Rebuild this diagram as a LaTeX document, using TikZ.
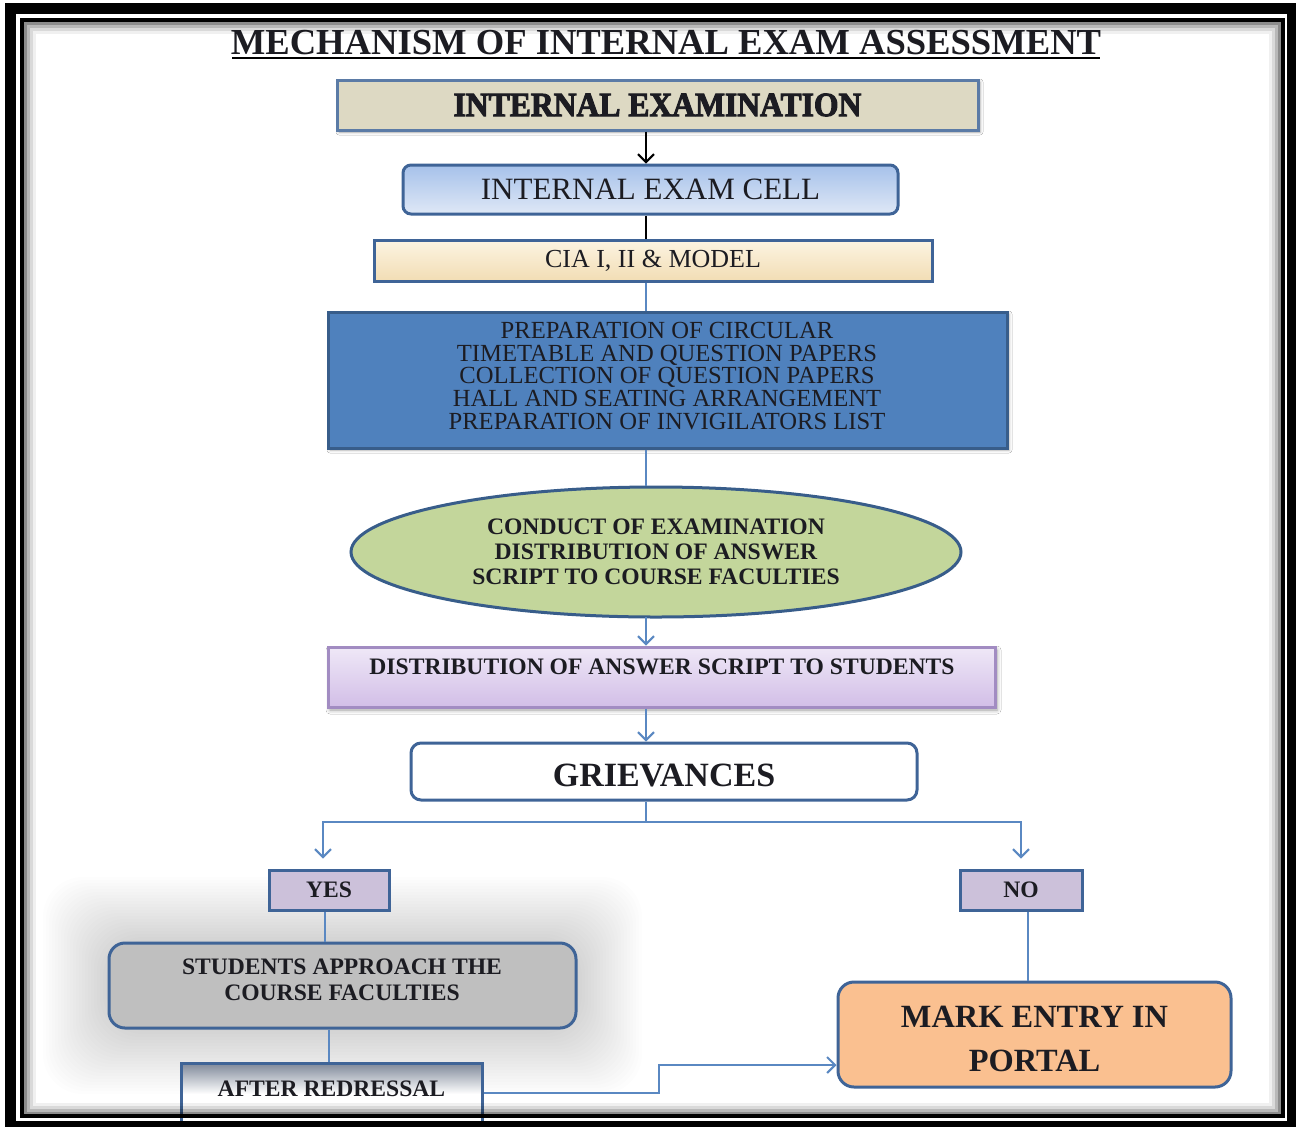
\documentclass[tikz,border=0pt]{standalone}
\usepackage{fontspec}
\usepackage{graphicx}
\setmainfont{Liberation Serif}
\newfontfamily\heavyfont[FakeBold=3]{Liberation Serif Bold}
\usetikzlibrary{arrows.meta,shapes.geometric,shadows.blur,calc}
\definecolor{ink}{HTML}{1C1C22}
\definecolor{bordblue}{HTML}{3F6497}
\definecolor{lineblue}{HTML}{5A88C2}
\definecolor{ieFill}{HTML}{DDD9C3}
\definecolor{ieBord}{HTML}{5B7BA6}
\definecolor{cellTop}{HTML}{A6C1EA}
\definecolor{cellBot}{HTML}{DFE8F6}
\definecolor{ciaTop}{HTML}{FCF4E2}
\definecolor{ciaBot}{HTML}{F2DDB4}
\definecolor{prepFill}{HTML}{4F81BD}
\definecolor{prepBord}{HTML}{385D8A}
\definecolor{condFill}{HTML}{C3D69B}
\definecolor{distTop}{HTML}{EFE8F7}
\definecolor{distBot}{HTML}{D2BEE7}
\definecolor{distBord}{HTML}{A28CC2}
\definecolor{ynFill}{HTML}{CCC1DA}
\definecolor{studFill}{HTML}{BFBFBF}
\definecolor{afterTop}{HTML}{7E8899}
\definecolor{markFill}{HTML}{FAC090}
\begin{document}
\begin{tikzpicture}[x=0.5pt,y=-0.5pt,
  every node/.style={text=ink, inner sep=0pt},
  box/.style={draw=bordblue, line width=1.5pt},
  conn/.style={draw=lineblue, line width=1pt},
  arr/.style={conn, -{Straight Barb[length=4pt,width=8pt,line width=1pt]}},
  body/.style={font=\bfseries\fontsize{11.8}{13}\selectfont, align=center}]
\useasboundingbox (0,0) rectangle (1296,1126);
\fill[white] (0,0) rectangle (1296,1126);

% soft glow behind the "students approach" box
\foreach \i in {1,...,22}
  \fill[black, opacity=0.0065, rounded corners=20pt] (109-3*\i,943-3*\i) rectangle (576+3*\i,1028+3*\i);

% title
\node[font=\bfseries\fontsize{18.3}{20}\selectfont] (title) at (666,43) {MECHANISM OF INTERNAL EXAM ASSESSMENT};
\draw[line width=1.2pt] (232,58) -- (1100,58);

% nodes
\node[box, draw=ieBord, fill=ieFill, minimum width=320.5pt, minimum height=25pt,
  blur shadow={shadow xshift=1pt,shadow yshift=-1pt,shadow blur radius=1.5pt,shadow opacity=35}]
  (ie) at (657.5,105) {\fontsize{17}{18}\heavyfont\scalebox{0.93}[1]{INTERNAL EXAMINATION}};

\node[box, rounded corners=4pt, top color=cellTop, bottom color=cellBot,
  minimum width=247.5pt, minimum height=24.5pt, font=\fontsize{15.5}{17}\selectfont]
  (cell) at (650.5,189.5) {INTERNAL EXAM CELL};

\node[box, top color=ciaTop, bottom color=ciaBot, minimum width=279pt, minimum height=20.5pt,
  font=\fontsize{13}{14}\selectfont] (cia) at (653,260.5) {CIA I, II \& MODEL};

\node[box, draw=prepBord, fill=prepFill, minimum width=339.5pt, minimum height=68pt,
  blur shadow={shadow xshift=1pt,shadow yshift=-1pt,shadow blur radius=1.5pt,shadow opacity=30}]
  (prep) at (667.5,380) {};
\node[align=center, font=\fontsize{12.3}{11.3}\selectfont] (prepT) at (667,376)
  {PREPARATION OF CIRCULAR\\TIMETABLE AND QUESTION PAPERS\\COLLECTION OF QUESTION PAPERS\\HALL AND SEATING ARRANGEMENT\\PREPARATION OF INVIGILATORS LIST};

\node[box, draw=prepBord, ellipse, fill=condFill, minimum width=305pt, minimum height=65pt,
  font=\bfseries\fontsize{11.8}{12.5}\selectfont, align=center]
  (cond) at (656,552) {CONDUCT OF EXAMINATION\\DISTRIBUTION OF ANSWER\\SCRIPT TO COURSE FACULTIES};

\node[box, draw=distBord, top color=distTop, bottom color=distBot, minimum width=333.5pt, minimum height=30pt,
  blur shadow={shadow xshift=1pt,shadow yshift=-1.5pt,shadow blur radius=2pt,shadow opacity=40}]
  (dist) at (661.5,677) {};
\node[body] (distT) at (662,667) {DISTRIBUTION OF ANSWER SCRIPT TO STUDENTS};

\node[box, rounded corners=5pt, fill=white, minimum width=253pt, minimum height=28.5pt] (griev) at (664,771.5) {};
\node[font=\bfseries\fontsize{17}{18}\selectfont] (grievT) at (664,775) {GRIEVANCES};

\node[box, fill=ynFill, minimum width=60pt, minimum height=20pt, body] (yes) at (329,890) {YES};
\node[box, fill=ynFill, minimum width=61pt, minimum height=20pt, body] (no) at (1021,890) {NO};

\node[box, rounded corners=8pt, fill=studFill, minimum width=233.5pt, minimum height=42.5pt]
  (stud) at (342.5,985.5) {};
\node[body] (studT) at (342,980) {STUDENTS APPROACH THE\\COURSE FACULTIES};

\node[box, top color=afterTop, bottom color=white, middle color=white, minimum width=150.5pt, minimum height=31pt]
  (after) at (331.5,1094) {};
\node[body] (afterT) at (331.5,1089) {AFTER REDRESSAL};

\node[box, rounded corners=8pt, fill=markFill, minimum width=196.5pt, minimum height=52.5pt]
  (mark) at (1034.5,1034.5) {};
\node[font=\bfseries\fontsize{16.2}{22}\selectfont, align=center] (markT) at (1034.5,1039) {MARK ENTRY IN\\PORTAL};

% connectors
\coordinate (ax) at (646,0);
\draw[line width=1pt, -{Straight Barb[length=4pt,width=8pt,line width=1pt]}] (ax |- ie.south) -- (ax |- cell.north);
\draw[line width=1pt] (ax |- cell.south) -- (ax |- cia.north);
\draw[conn] (ax |- cia.south) -- (ax |- prep.north);
\draw[conn] (ax |- prep.south) -- (ax |- cond.north);
\draw[arr] (646,617) -- (ax |- dist.north);
\draw[arr] (ax |- dist.south) -- (ax |- griev.north);

\coordinate (split) at (646,822);
\coordinate (yT) at (323,822);
\coordinate (nT) at (1021,822);
\draw[conn] (ax |- griev.south) -- (split);
\draw[arr, shorten >=5pt] (split) -- (yT) -- (yT |- yes.north);
\draw[arr, shorten >=5pt] (split) -- (nT) -- (nT |- no.north);

\coordinate (yx) at (325,0);
\coordinate (sx) at (329,0);
\coordinate (nx) at (1028,0);
\draw[conn] (yx |- yes.south) -- (yx |- stud.north);
\draw[conn] (sx |- stud.south) -- (sx |- after.north);
\draw[conn] (nx |- no.south) -- (nx |- mark.north);

\coordinate (r1) at (659,1093);
\coordinate (r2) at (659,1065);
\draw[arr] (after.east |- r1) -- (r1) -- (r2) -- (mark.west |- r2);

% frame
\foreach \d/\o in {3/0.45,6/0.28,9/0.15,12/0.06}
  \draw[black, opacity=\o, line width=1.5pt] (22+\d,20+\d) rectangle (1282.5-\d,1116-\d);
\draw[line width=5.5pt] (10.5,8.5) rectangle (1292.5,1126.5);
\draw[line width=2pt] (22,20) rectangle (1282.5,1116);
\end{tikzpicture}
\end{document}
